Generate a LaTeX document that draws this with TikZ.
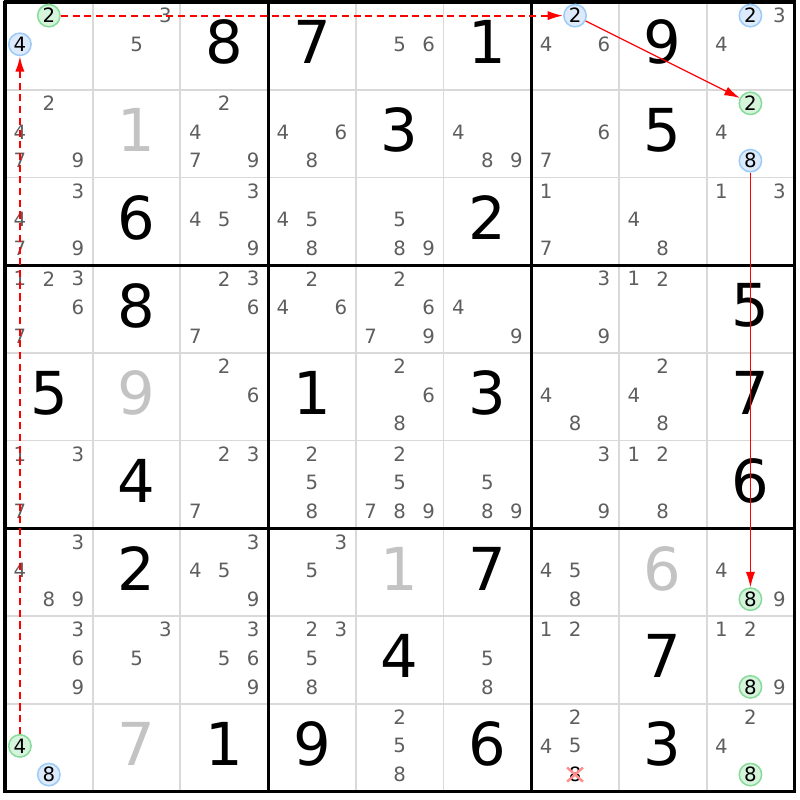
\documentclass[tikz,border=0pt]{standalone}
\usepackage{fontspec}
\setmainfont{DejaVu Sans}
\usetikzlibrary{arrows.meta}
\definecolor{candgray}{HTML}{5E5E5E}
\definecolor{givengray}{HTML}{C3C3C3}
\definecolor{thingray}{HTML}{D9D9D9}
\definecolor{ringblue}{HTML}{9CCBF7}
\definecolor{fillblue}{HTML}{DCEAFB}
\definecolor{ringgreen}{HTML}{88DB99}
\definecolor{fillgreen}{HTML}{D6F3DC}

\begin{document}
\begin{tikzpicture}[x=1cm, y=-1cm,
  cand/.style={inner sep=0pt, text=candgray, font=\fontsize{6.4pt}{7pt}\selectfont},
  bigdigit/.style={inner sep=0pt, font=\fontsize{19.2pt}{20pt}\selectfont},
  given/.style={bigdigit, text=givengray},
  bluering/.style={circle, draw=ringblue, fill=fillblue, line width=0.5pt, minimum size=0.255cm, inner sep=0pt, font=\fontsize{6.4pt}{7pt}\selectfont},
  greenring/.style={bluering, draw=ringgreen, fill=fillgreen},
  chain/.style={red, line width=0.4pt, -{Latex[length=5pt,width=3pt]}},
  weak/.style={chain, line width=0.6pt, dash pattern=on 2.3pt off 1.5pt},
  strike/.style={red!45, line width=0.8pt}]

\useasboundingbox (-0.057,-0.023) rectangle (9.065,9.099);

\foreach \i in {1,2,4,5,7,8} {
  \draw[thingray, line width=0.6pt] (0,\i) -- (9,\i);
  \draw[thingray, line width=0.6pt] (\i,0) -- (\i,9);
}
\foreach \i in {0,3,6,9} {
  \draw[line width=1pt] (-0.017,\i) -- (9.017,\i);
  \draw[line width=1pt] (\i,-0.017) -- (\i,9.017);
}

% solved cells
\foreach \r/\c/\v in {0/2/8, 0/3/7, 0/5/1, 0/7/9, 1/4/3, 1/7/5, 2/1/6, 2/5/2,
    3/1/8, 3/8/5, 4/0/5, 4/3/1, 4/5/3, 4/8/7, 5/1/4, 5/8/6, 6/1/2, 6/5/7,
    7/4/4, 7/7/7, 8/2/1, 8/3/9, 8/5/6, 8/7/3} {
  \node[bigdigit] (v\r\c) at ({\c+0.5},{\r+0.46}) {\v};
}
\foreach \r/\c/\v in {1/1/1, 4/1/9, 6/4/1, 6/7/6, 8/1/7} {
  \node[given] (v\r\c) at ({\c+0.5},{\r+0.46}) {\v};
}

% pencil marks
\foreach \r/\c/\cands in {0/1/{3,5}, 0/4/{5,6}, 0/6/{4,6}, 0/8/{3,4},
    1/0/{2,4,7,9}, 1/2/{2,4,7,9}, 1/3/{4,6,8}, 1/5/{4,8,9}, 1/6/{6,7}, 1/8/{4},
    2/0/{3,4,7,9}, 2/2/{3,4,5,9}, 2/3/{4,5,8}, 2/4/{5,8,9}, 2/6/{1,7}, 2/7/{4,8}, 2/8/{1,3},
    3/0/{1,2,3,6,7}, 3/2/{2,3,6,7}, 3/3/{2,4,6}, 3/4/{2,6,7,9}, 3/5/{4,9}, 3/6/{3,9}, 3/7/{1,2},
    4/2/{2,6}, 4/4/{2,6,8}, 4/6/{4,8}, 4/7/{2,4,8},
    5/0/{1,3,7}, 5/2/{2,3,7}, 5/3/{2,5,8}, 5/4/{2,5,7,8,9}, 5/5/{5,8,9}, 5/6/{3,9}, 5/7/{1,2,8},
    6/0/{3,4,8,9}, 6/2/{3,4,5,9}, 6/3/{3,5}, 6/6/{4,5,8}, 6/8/{4,9},
    7/0/{3,6,9}, 7/1/{3,5}, 7/2/{3,5,6,9}, 7/3/{2,3,5,8}, 7/5/{5,8}, 7/6/{1,2}, 7/8/{1,2,9},
    8/4/{2,5,8}, 8/6/{2,4,5}, 8/8/{2,4}} {
  \foreach \d in \cands {
    \pgfmathsetmacro\px{\c+0.17+0.33*mod(\d-1,3)}
    \pgfmathsetmacro\py{\r+0.155+0.327*int((\d-1)/3)}
    \node[cand] (k\r\c\d) at (\px,\py) {\d};
  }
}

% highlighted candidates
\foreach \r/\c/\d/\ring in {0/0/2/greenring, 0/0/4/bluering, 0/6/2/bluering, 0/8/2/bluering,
    1/8/2/greenring, 1/8/8/bluering, 6/8/8/greenring, 7/8/8/greenring, 8/8/8/greenring,
    8/0/4/greenring, 8/0/8/bluering} {
  \pgfmathsetmacro\px{\c+0.17+0.33*mod(\d-1,3)}
  \pgfmathsetmacro\py{\r+0.155+0.327*int((\d-1)/3)}
  \node[\ring] (k\r\c\d) at (\px,\py) {\d};
}

\node[cand, text=black] (k868) at (6.5,8.809) {8};
\draw[strike] ([shift={(-0.09,-0.08)}]k868.center) -- ([shift={(0.09,0.08)}]k868.center);
\draw[strike] ([shift={(-0.09,0.08)}]k868.center) -- ([shift={(0.09,-0.08)}]k868.center);

\draw[weak] (k804) -- (k004);
\draw[weak] (k002) -- (k062);
\draw[chain] (k062) -- (k182);
\draw[chain] (k188) -- (k688);

\end{tikzpicture}
\end{document}
